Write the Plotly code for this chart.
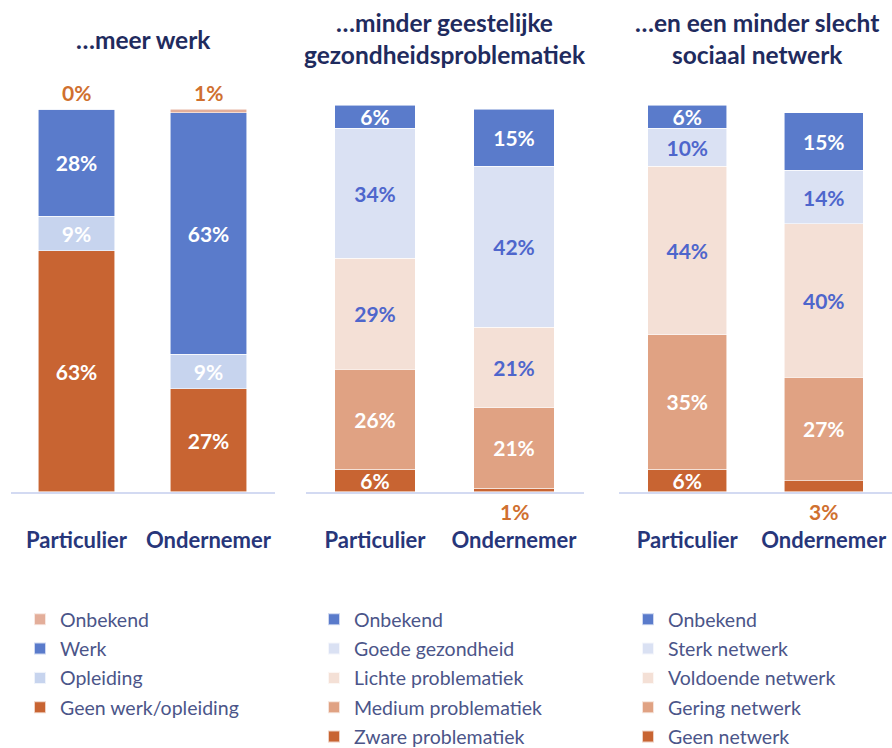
import plotly.graph_objects as go

categories = ["Particulier", "Ondernemer"]

# Panel 1: ...meer werk (bottom -> top)
p1_names = ["Geen werk/opleiding", "Opleiding", "Werk", "Onbekend"]
p1_geen = [63, 27]
p1_opleiding = [9, 9]
p1_werk = [28, 63]
p1_onbekend = [0, 1]

# Panel 2: ...minder geestelijke gezondheidsproblematiek (bottom -> top)
p2_names = ["Zware problematiek", "Medium problematiek", "Lichte problematiek", "Goede gezondheid", "Onbekend"]
p2_zware = [6, 1]
p2_medium = [26, 21]
p2_lichte = [29, 21]
p2_goede = [34, 42]
p2_onbekend = [6, 15]

# Panel 3: ...en een minder slecht sociaal netwerk (bottom -> top)
p3_names = ["Geen netwerk", "Gering netwerk", "Voldoende netwerk", "Sterk netwerk", "Onbekend"]
p3_geen = [6, 3]
p3_gering = [35, 27]
p3_voldoende = [44, 40]
p3_sterk = [10, 14]
p3_onbekend = [6, 15]

titles = ["<b>…meer werk</b>",
          "<b>…minder geestelijke<br>gezondheidsproblematiek</b>",
          "<b>…en een minder slecht<br>sociaal netwerk</b>"]

FONT = "Lato"
C_BLUE = "#5A7BCB"
C_OPL = "#C7D4EE"
C_GOEDE = "#DAE1F3"
C_LICHT = "#F4E0D6"
C_MED = "#E0A283"
C_ZWARE = "#C86432"
C_ONB1 = "#E3AE9A"
WHITE = "#FFFFFF"
TXT_BLUE = "#4E66CC"
OUT_ORANGE = "#D0702F"

panels = [
    dict(names=p1_names, series=[p1_geen, p1_opleiding, p1_werk, p1_onbekend],
         colors=[C_ZWARE, C_OPL, C_BLUE, C_ONB1],
         tcolors=[WHITE, WHITE, WHITE, WHITE],
         outside=[False, False, False, True]),
    dict(names=p2_names, series=[p2_zware, p2_medium, p2_lichte, p2_goede, p2_onbekend],
         colors=[C_ZWARE, C_MED, C_LICHT, C_GOEDE, C_BLUE],
         tcolors=[WHITE, WHITE, TXT_BLUE, TXT_BLUE, WHITE],
         outside=[True, False, False, False, False]),
    dict(names=p3_names, series=[p3_geen, p3_gering, p3_voldoende, p3_sterk, p3_onbekend],
         colors=[C_ZWARE, C_MED, C_LICHT, C_GOEDE, C_BLUE],
         tcolors=[WHITE, WHITE, TXT_BLUE, TXT_BLUE, WHITE],
         outside=[True, False, False, False, False]),
]

x_domains = [[10.5 / 892, 274.5 / 892], [305.5 / 892, 583.5 / 892], [619 / 892, 1.0]]
y_domain = [(748 - 492) / 748, (748 - 70.7) / 748]
YMAX = 110

fig = go.Figure()
annotations = []

for pi, p in enumerate(panels):
    xa = "x" if pi == 0 else f"x{pi+1}"
    ya = "y" if pi == 0 else f"y{pi+1}"
    leg = "legend" if pi == 0 else f"legend{pi+1}"
    n = len(p["series"])
    cum = [0] * len(categories)
    for si in range(n):
        vals = p["series"][si]
        texts = []
        for ci, v in enumerate(vals):
            if p["outside"][si] and v <= 3:
                texts.append("")
                if si == 0:
                    annotations.append(dict(x=categories[ci], y=0, xref=xa, yref=ya,
                                            text=f"<b>{v}%</b>", showarrow=False,
                                            yshift=-19, font=dict(family=FONT, size=21, color=OUT_ORANGE)))
                else:
                    annotations.append(dict(x=categories[ci], y=cum[ci] + v, xref=xa, yref=ya,
                                            text=f"<b>{v}%</b>", showarrow=False,
                                            yshift=17, font=dict(family=FONT, size=21, color=OUT_ORANGE)))
            else:
                texts.append(f"<b>{v}%</b>")
            cum[ci] += v
        fig.add_trace(go.Bar(
            x=categories, y=vals, name=p["names"][si],
            marker=dict(color=p["colors"][si], line=dict(color="rgba(255,255,255,0.7)", width=0.8)),
            text=texts, textposition="inside", insidetextanchor="middle",
            textangle=0, constraintext="none",
            textfont=dict(family=FONT, size=21, color=p["tcolors"][si]),
            xaxis=xa, yaxis=ya, legend=leg, legendgroup=f"{pi}_{si}",
            legendrank=(n - si) * 100,
            hoverinfo="skip",
        ))

layout_axes = {}
for pi in range(3):
    xk = "xaxis" if pi == 0 else f"xaxis{pi+1}"
    yk = "yaxis" if pi == 0 else f"yaxis{pi+1}"
    layout_axes[xk] = dict(domain=x_domains[pi], anchor="y" if pi == 0 else f"y{pi+1}",
                           showline=True, linecolor="#D3DAF2", linewidth=2,
                           showgrid=False, zeroline=False, ticks="",
                           ticklabelstandoff=28, automargin=False,
                           tickfont=dict(family=FONT, size=22, color="#27367A"),
                           tickprefix="<b>", ticksuffix="</b>", fixedrange=True)
    layout_axes[yk] = dict(domain=y_domain, anchor="x" if pi == 0 else f"x{pi+1}",
                           range=[0, YMAX], visible=False, fixedrange=True, automargin=False)

title_x = [143 / 892, 445 / 892, 757 / 892]
title_y = [(748 - 40) / 748, (748 - 38.5) / 748, (748 - 38.5) / 748]
for pi in range(3):
    annotations.append(dict(x=title_x[pi], y=title_y[pi], xref="paper", yref="paper",
                            text=titles[pi], showarrow=False, xanchor="center", yanchor="middle",
                            font=dict(family=FONT, size=24.5, color="#1F2B5E")))

legend_common = dict(orientation="v", yanchor="top", xanchor="left", traceorder="grouped",
                     tracegroupgap=1, bgcolor="rgba(0,0,0,0)",
                     font=dict(family=FONT, size=19.5, color="#4B5589"), itemsizing="constant")
legend_x = [20 / 892, 314 / 892, 628 / 892]
legend_y = (748 - 600) / 748

fig.update_layout(
    width=892, height=748,
    margin=dict(l=0, r=0, t=0, b=0, autoexpand=False),
    paper_bgcolor="white", plot_bgcolor="white",
    barmode="stack", bargap=0.424,
    showlegend=True,
    annotations=annotations,
    legend=dict(x=legend_x[0], y=legend_y, **legend_common),
    legend2=dict(x=legend_x[1], y=legend_y, **legend_common),
    legend3=dict(x=legend_x[2], y=legend_y, **legend_common),
    font=dict(family=FONT),
    **layout_axes,
)

fig.write_html("out.html", config={"displayModeBar": False},
               post_script="document.body.style.margin='0px';")
